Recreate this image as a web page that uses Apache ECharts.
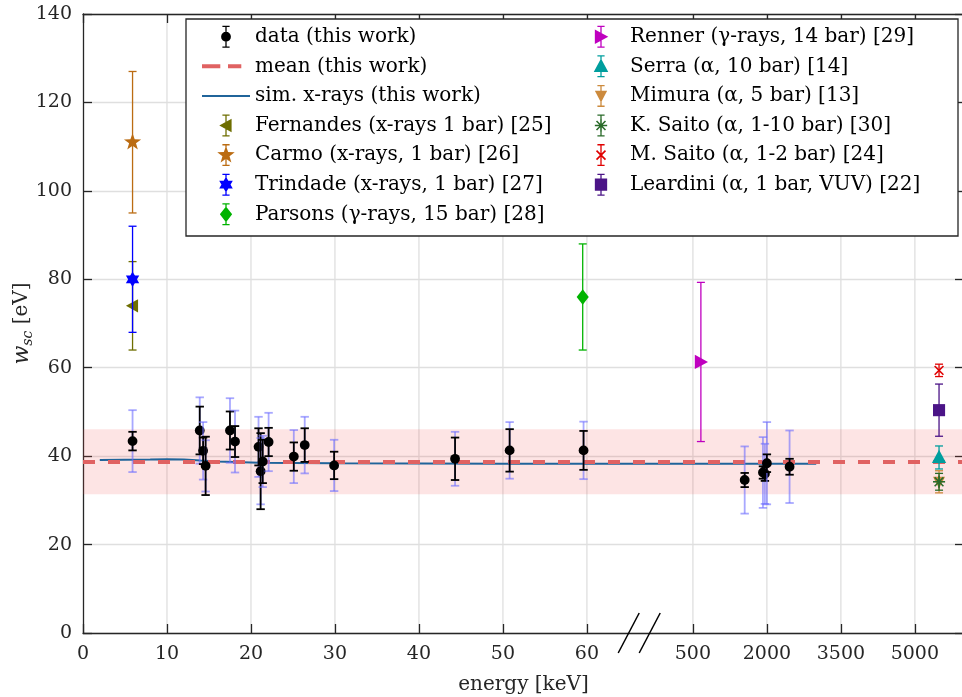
<!DOCTYPE html>
<html><head><meta charset="utf-8">
<script src="https://cdn.jsdelivr.net/npm/echarts@6/dist/echarts.min.js"></script>
<style>html,body{margin:0;padding:0;background:#fff}#c{width:962px;height:697px}</style>
</head><body><div id="c"></div>
<script>
// ---------------- axis / tick data ----------------
const xTickEnergies = [0, 10, 20, 30, 40, 50, 60, 500, 2000, 3500, 5000];
const xTickLabels = ['0', '10', '20', '30', '40', '50', '60', '500', '2000', '3500', '5000'];
const yMin = 0, yMax = 140, yStep = 20;

// ---------------- data (this work) ----------------
const dataE    = [5.9, 13.9, 14.3, 14.6, 17.5, 18.1, 20.9, 21.15, 21.4, 22.1, 25.1, 26.4, 29.9, 44.3, 50.8, 59.6, 1550, 1920, 1960, 2000, 2460];
const dataW    = [43.4, 45.8, 41.2, 37.8, 45.8, 43.3, 42.1, 36.6, 38.8, 43.2, 39.9, 42.5, 37.9, 39.4, 41.3, 41.3, 34.6, 36.3, 36.0, 38.4, 37.6];
const dataStat = [2.1, 5.4, 3.0, 6.6, 4.3, 3.5, 4.2, 8.6, 4.9, 3.2, 3.2, 3.8, 3.1, 4.8, 4.8, 4.4, 1.6, 1.4, 1.6, 2.0, 1.8];
const dataSys  = [7.0, 7.5, 6.5, 5.8, 7.3, 7.0, 6.8, 7.5, 5.8, 6.6, 6.0, 6.4, 5.8, 6.1, 6.4, 6.5, 7.6, 8.0, 6.8, 9.3, 8.2];

// mean and band (this work)
const meanW = 38.7;
const bandLo = 31.4, bandHi = 46.1;

// simulated x-rays (this work)
const simE = [2, 5, 8, 10, 12, 14, 16, 18, 21, 25, 30, 40, 50, 60, 500, 1000, 1500, 2000, 2500, 3000];
const simW = [39.1, 39.2, 39.25, 39.3, 39.25, 39.0, 38.8, 38.65, 38.5, 38.45, 38.4, 38.35, 38.3, 38.3, 38.3, 38.3, 38.3, 38.3, 38.3, 38.3];

// literature values
const fernandesE = [5.9],  fernandesW = [74.0],  fernandesErr = [10.0];
const carmoE     = [5.9],  carmoW     = [111.0], carmoErr     = [16.0];
const trindadeE  = [5.9],  trindadeW  = [80.0],  trindadeErr  = [12.0];
const parsonsE   = [59.5], parsonsW   = [76.0],  parsonsErr   = [12.0];
const rennerE    = [662],  rennerW    = [61.3],  rennerErr    = [18.0];
const serraE     = [5490], serraW     = [39.7],  serraErr     = [2.6];
const mimuraE    = [5490], mimuraW    = [34.2],  mimuraErr    = [2.5];
const kSaitoE    = [5490], kSaitoW    = [34.2],  kSaitoErr    = [1.9];
const mSaitoE    = [5490], mSaitoW    = [59.4],  mSaitoErr    = [1.4];
const leardiniE  = [5490], leardiniW  = [50.4],  leardiniErr  = [5.9];

const legendLeft = ['data (this work)', 'mean (this work)', 'sim. x-rays (this work)',
  'Fernandes (x-rays 1 bar) [25]', 'Carmo (x-rays, 1 bar) [26]', 'Trindade (x-rays, 1 bar) [27]',
  'Parsons (γ-rays, 15 bar) [28]'];
const legendRight = ['Renner (γ-rays, 14 bar) [29]', 'Serra (α, 10 bar) [14]', 'Mimura (α, 5 bar) [13]',
  'K. Saito (α, 1-10 bar) [30]', 'M. Saito (α, 1-2 bar) [24]', 'Leardini (α, 1 bar, VUV) [22]'];

// ---------------- broken axis scale ----------------
const XMAX = 104.9;
function axisPos(e) { return e <= 60 ? e : 72.62 + (e - 500) / 1500 * 8.81; }
const tickPos = xTickEnergies.map(axisPos);
const breakPos = (60 + axisPos(500)) / 2;

// ---------------- marker helpers ----------------
function orient(pts) {
  let a = 0;
  for (let i = 0; i < pts.length; i++) { const p = pts[i], q = pts[(i + 1) % pts.length]; a += p[0] * q[1] - q[0] * p[1]; }
  return a < 0 ? pts.slice().reverse() : pts;
}
function thick(x1, y1, x2, y2, w) {
  const dx = x2 - x1, dy = y2 - y1, L = Math.hypot(dx, dy), nx = -dy / L * w / 2, ny = dx / L * w / 2;
  return [[x1 + nx, y1 + ny], [x2 + nx, y2 + ny], [x2 - nx, y2 - ny], [x1 - nx, y1 - ny]];
}
function rectPoly(x1, y1, x2, y2) { return { poly: orient([[x1, y1], [x2, y1], [x2, y2], [x1, y2]]) }; }
function markerShapes(type, cx, cy, k) {
  const P = arr => ({ poly: orient(arr.map(([x, y]) => [cx + x * k, cy + y * k])) });
  switch (type) {
    case 'circle': return [{ circle: [cx, cy, 4.9 * k] }];
    case 'triLeft': return [P([[-6, 0], [5, -6], [5, 6]])];
    case 'triRight': return [P([[6.5, 0], [-5.5, -6.5], [-5.5, 6.5]])];
    case 'triUp': return [P([[0, -7], [6.5, 5], [-6.5, 5]])];
    case 'triDown': return [P([[0, 6], [-5.5, -4.5], [5.5, -4.5]])];
    case 'diamond': return [P([[0, -7], [5.5, 0], [0, 7], [-5.5, 0]])];
    case 'square': return [P([[-5.5, -5.5], [5.5, -5.5], [5.5, 5.5], [-5.5, 5.5]])];
    case 'star5': {
      const pts = [];
      for (let i = 0; i < 10; i++) { const r = i % 2 ? 3.3 : 8.2; const a = -Math.PI / 2 + i * Math.PI / 5; pts.push([r * Math.cos(a), r * Math.sin(a)]); }
      return [P(pts)];
    }
    case 'hexagram': {
      const t1 = [], t2 = [];
      for (let i = 0; i < 3; i++) {
        const a = -Math.PI / 2 + i * 2 * Math.PI / 3; t1.push([7 * Math.cos(a), 7 * Math.sin(a)]);
        const b = Math.PI / 2 + i * 2 * Math.PI / 3; t2.push([7 * Math.cos(b), 7 * Math.sin(b)]);
      }
      return [P(t1), P(t2)];
    }
    case 'cross': return [P(thick(-4, -4, 4, 4, 1.5)), P(thick(-4, 4, 4, -4, 1.5))];
    case 'asterisk': return [P(thick(-5.5, 0, 5.5, 0, 1.4)), P(thick(0, -5.5, 0, 5.5, 1.4)), P(thick(-4, -4, 4, 4, 1.4)), P(thick(-4, 4, 4, -4, 1.4))];
  }
  return [];
}
function toElements(shapes, color) {
  return shapes.map(s => s.circle
    ? { type: 'circle', shape: { cx: s.circle[0], cy: s.circle[1], r: s.circle[2] }, style: { fill: color } }
    : { type: 'polygon', shape: { points: s.poly }, style: { fill: color } });
}
function toPath(shapes) {
  const f = v => v.toFixed(2);
  return shapes.map(s => {
    if (s.circle) {
      const [cx, cy, r] = s.circle;
      return `M${f(cx - r)} ${f(cy)} A${f(r)} ${f(r)} 0 1 1 ${f(cx + r)} ${f(cy)} A${f(r)} ${f(r)} 0 1 1 ${f(cx - r)} ${f(cy)} Z`;
    }
    return 'M' + s.poly.map(p => f(p[0]) + ' ' + f(p[1])).join(' L') + ' Z';
  }).join(' ');
}
// legend icons drawn in a 48 x 22 frame (degenerate corner points fix the frame)
const ICON_W = 48, ICON_H = 22;
const FRAME = `M0 0 L0 0 Z M${ICON_W} ${ICON_H} L${ICON_W} ${ICON_H} Z `;
function legendIcon(type) {
  const cx = ICON_W / 2, cy = ICON_H / 2;
  const parts = [
    rectPoly(cx - 0.65, 0, cx + 0.65, ICON_H),
    rectPoly(cx - 3.6, 0, cx + 3.6, 1.3),
    rectPoly(cx - 3.6, ICON_H - 1.3, cx + 3.6, ICON_H),
    ...markerShapes(type, cx, cy, type === 'circle' ? 1.0 : 1.12)
  ];
  return 'path://' + FRAME + toPath(parts);
}
const iconMean = 'path://' + FRAME + toPath([rectPoly(0, 9, 18.3, 13), rectPoly(26, 9, 39.3, 13)]);
const iconSim = 'path://' + FRAME + toPath([rectPoly(0, 10, 48, 12)]);

function barEls(x, y1, y2, cw, st) {
  return [
    { type: 'line', shape: { x1: x, y1: y1, x2: x, y2: y2 }, style: st },
    { type: 'line', shape: { x1: x - cw, y1: y1, x2: x + cw, y2: y1 }, style: st },
    { type: 'line', shape: { x1: x - cw, y1: y2, x2: x + cw, y2: y2 }, style: st }
  ];
}
function errorBarSeries(name, E, W, ERR, color, marker) {
  return {
    type: 'custom', name, z: 3, clip: false, silent: true,
    itemStyle: { color },
    data: E.map((e, i) => [axisPos(e), W[i], W[i] - ERR[i], W[i] + ERR[i]]),
    renderItem: (params, api) => {
      const x = api.value(0);
      const c = api.coord([x, api.value(1)]), lo = api.coord([x, api.value(2)]), hi = api.coord([x, api.value(3)]);
      return { type: 'group', children: [
        ...barEls(c[0], lo[1], hi[1], 4, { stroke: color, lineWidth: 1.3 }),
        ...toElements(markerShapes(marker, c[0], c[1], 1.1), color)
      ] };
    }
  };
}

const lit = [
  ['Fernandes (x-rays 1 bar) [25]', fernandesE, fernandesW, fernandesErr, '#6e6e00', 'triLeft'],
  ['Carmo (x-rays, 1 bar) [26]', carmoE, carmoW, carmoErr, '#bb6c12', 'star5'],
  ['Trindade (x-rays, 1 bar) [27]', trindadeE, trindadeW, trindadeErr, '#0000ff', 'hexagram'],
  ['Parsons (γ-rays, 15 bar) [28]', parsonsE, parsonsW, parsonsErr, '#00b300', 'diamond'],
  ['Renner (γ-rays, 14 bar) [29]', rennerE, rennerW, rennerErr, '#bf00bf', 'triRight'],
  ['Serra (α, 10 bar) [14]', serraE, serraW, serraErr, '#009e9e', 'triUp'],
  ['Mimura (α, 5 bar) [13]', mimuraE, mimuraW, mimuraErr, '#cc8a3d', 'triDown'],
  ['K. Saito (α, 1-10 bar) [30]', kSaitoE, kSaitoW, kSaitoErr, '#2a6b2a', 'asterisk'],
  ['M. Saito (α, 1-2 bar) [24]', mSaitoE, mSaitoW, mSaitoErr, '#e00000', 'cross'],
  ['Leardini (α, 1 bar, VUV) [22]', leardiniE, leardiniW, leardiniErr, '#4b1487', 'square']
];
const iconOf = {};
lit.forEach(l => iconOf[l[0]] = legendIcon(l[5]));
iconOf['data (this work)'] = legendIcon('circle');
iconOf['mean (this work)'] = iconMean;
iconOf['sim. x-rays (this work)'] = iconSim;

const FONT = 'DejaVu Serif';
const AX = '#262626';
const legendData = names => names.map(n => ({ name: n, icon: iconOf[n] }));
const legendCommon = {
  orient: 'vertical', top: 25.7, padding: 0, itemWidth: ICON_W, itemHeight: ICON_H, itemGap: 7.6,
  selectedMode: false, symbolKeepAspect: true,
  textStyle: { fontFamily: FONT, fontSize: 20, color: '#000' },
  itemStyle: { borderWidth: 0 }
};

const xAxisBase = {
  type: 'value', min: 0, max: XMAX,
  axisLine: { show: true, onZero: false, lineStyle: { color: AX, width: 1.3 } },
  axisTick: { show: true, inside: true, length: 9, customValues: tickPos, lineStyle: { color: AX, width: 1.3 } },
  splitLine: { show: false }
};
const yAxisBase = {
  type: 'value', min: yMin, max: yMax, interval: yStep,
  axisLine: { show: true, onZero: false, lineStyle: { color: AX, width: 1.3 } },
  axisTick: { show: true, inside: true, length: 9, lineStyle: { color: AX, width: 1.3 } }
};

const option = {
  animation: false,
  backgroundColor: '#fff',
  grid: { left: 83, top: 14, right: -2, bottom: 64, containLabel: false, outerBoundsMode: 'none' },
  xAxis: [
    Object.assign({}, xAxisBase, {
      position: 'bottom',
      axisLabel: { show: true, customValues: tickPos, margin: 12, fontFamily: FONT, fontSize: 19, color: AX,
        formatter: v => { const i = tickPos.findIndex(p => Math.abs(p - v) < 1e-6); return i >= 0 ? xTickLabels[i] : ''; } },
      name: 'energy [keV]', nameLocation: 'middle', nameGap: 42, nameMoveOverlap: false,
      nameTextStyle: { fontFamily: FONT, fontSize: 20, color: AX }
    }),
    Object.assign({}, xAxisBase, { position: 'top', axisLabel: { show: false } })
  ],
  yAxis: [
    Object.assign({}, yAxisBase, {
      position: 'left',
      axisLabel: { margin: 11, fontFamily: FONT, fontSize: 19, color: AX },
      splitLine: { show: true, lineStyle: { color: '#dfdfdf', width: 1.3 } },
      name: '{w|w}{s|sc} [eV]', nameLocation: 'middle', nameGap: 48, nameRotate: 90, nameMoveOverlap: false,
      nameTextStyle: { fontFamily: FONT, fontSize: 20, color: AX, lineHeight: 26,
        rich: { w: { fontFamily: FONT, fontSize: 22, fontStyle: 'italic', color: AX, lineHeight: 26 },
                s: { fontFamily: FONT, fontSize: 14, fontStyle: 'italic', color: AX, lineHeight: 14, verticalAlign: 'bottom' } } }
    }),
    Object.assign({}, yAxisBase, { position: 'right', axisLabel: { show: false }, splitLine: { show: false } })
  ],
  legend: [
    Object.assign({ left: 202, data: legendData(legendLeft) }, legendCommon),
    Object.assign({ left: 577, data: legendData(legendRight) }, legendCommon)
  ],
  graphic: [{
    type: 'rect', z: 3.9, silent: true,
    shape: { x: 186, y: 19, width: 772, height: 217 },
    style: { fill: '#fff', stroke: AX, lineWidth: 1.3 }
  }],
  series: [
    { // vertical grid lines at the custom ticks
      type: 'custom', name: 'vgrid', z: 0, silent: true, clip: true,
      data: tickPos.map(p => [p]),
      renderItem: (params, api) => {
        const a = api.coord([api.value(0), yMin]), b = api.coord([api.value(0), yMax]);
        return { type: 'line', shape: { x1: a[0], y1: a[1], x2: b[0], y2: b[1] }, style: { stroke: '#dfdfdf', lineWidth: 1.3 } };
      }
    },
    { // spread band around the mean
      type: 'custom', name: 'band', z: 1, silent: true,
      data: [[0, bandLo, bandHi]],
      renderItem: (params, api) => {
        const a = api.coord([0, api.value(2)]), b = api.coord([XMAX, api.value(1)]);
        return { type: 'rect', shape: { x: a[0], y: a[1], width: b[0] - a[0], height: b[1] - a[1] }, style: { fill: 'rgba(242,75,75,0.15)' } };
      }
    },
    {
      type: 'line', name: 'sim. x-rays (this work)', z: 2, symbol: 'none', silent: true,
      data: simE.map((e, i) => [axisPos(e), simW[i]]),
      lineStyle: { color: '#20649a', width: 2 }, itemStyle: { color: '#20649a' }
    },
    {
      type: 'line', name: 'mean (this work)', z: 2, symbol: 'none', silent: true,
      data: [[0, meanW], [XMAX, meanW]],
      lineStyle: { color: '#e06262', width: 4, type: [12, 13] }, itemStyle: { color: '#e06262' }
    },
    {
      type: 'custom', name: 'data (this work)', z: 3, clip: false, silent: true,
      itemStyle: { color: '#000' },
      data: dataE.map((e, i) => [axisPos(e), dataW[i], dataStat[i], dataSys[i]]),
      renderItem: (params, api) => {
        const x = api.value(0), w = api.value(1), st = api.value(2), sy = api.value(3);
        const c = api.coord([x, w]);
        const s1 = api.coord([x, w - sy]), s2 = api.coord([x, w + sy]);
        const t1 = api.coord([x, w - st]), t2 = api.coord([x, w + st]);
        return { type: 'group', children: [
          ...barEls(c[0], s1[1], s2[1], 4.2, { stroke: 'rgba(110,110,255,0.6)', lineWidth: 1.8 }),
          ...barEls(c[0], t1[1], t2[1], 4.2, { stroke: '#000', lineWidth: 1.8 }),
          ...toElements(markerShapes('circle', c[0], c[1], 1), '#000')
        ] };
      }
    },
    ...lit.map(l => errorBarSeries(l[0], l[1], l[2], l[3], l[4], l[5])),
    { // axis break marks
      type: 'custom', name: 'break', z: 5, clip: false, silent: true,
      data: [[breakPos, yMin]],
      renderItem: (params, api) => {
        const c = api.coord([api.value(0), api.value(1)]);
        const st = { stroke: '#000', lineWidth: 1.5 };
        return { type: 'group', children: [
          { type: 'line', shape: { x1: c[0] - 21.7, y1: c[1] + 20, x2: c[0] - 0.7, y2: c[1] - 20 }, style: st },
          { type: 'line', shape: { x1: c[0] - 0.7, y1: c[1] + 20, x2: c[0] + 20.3, y2: c[1] - 20 }, style: st }
        ] };
      }
    }
  ]
};

const chart = echarts.init(document.getElementById('c'), null, { renderer: 'canvas' });
chart.setOption(option);
</script>
</body></html>
